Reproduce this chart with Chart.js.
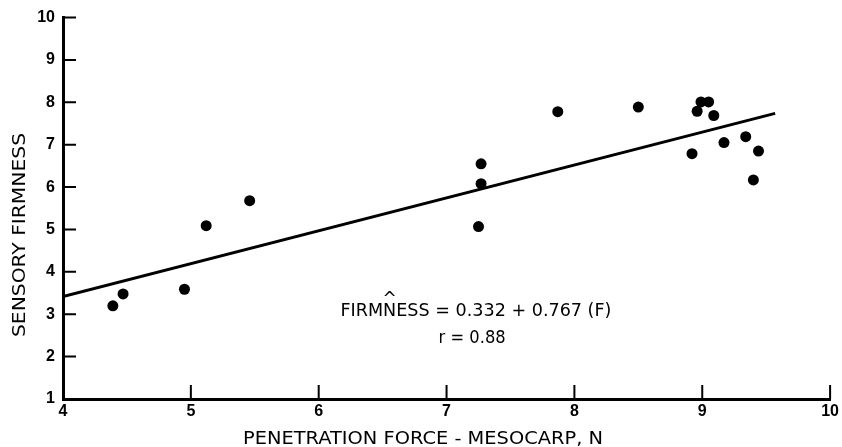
<!DOCTYPE html>
<html>
<head>
<meta charset="utf-8">
<script src="https://cdn.jsdelivr.net/npm/chart.js@4.4.1/dist/chart.umd.min.js"></script>
<style>
  html, body { margin: 0; padding: 0; background: #fff; }
  #wrap { width: 842px; height: 447px; position: relative; }
</style>
</head>
<body>
<div id="wrap"><canvas id="firmChart"></canvas></div>
<script>
// Data
const forceN = [4.39, 4.47, 4.95, 5.12, 5.46, 7.25, 7.27, 7.27, 7.87, 8.50,
                8.96, 8.99, 9.05, 9.09, 8.92, 9.17, 9.34, 9.44, 9.40];
const firmness = [3.20, 3.48, 3.59, 5.09, 5.68, 5.07, 6.08, 6.55, 7.78, 7.89,
                  7.79, 8.01, 8.01, 7.69, 6.79, 7.05, 7.19, 6.85, 6.17];
// regression line end points
const fitX = [4.0, 9.57];
const fitY = [3.42, 7.74];

const xTicks = [4, 5, 6, 7, 8, 9, 10];
const yTicks = [1, 2, 3, 4, 5, 6, 7, 8, 9, 10];

const xTitle = 'PENETRATION FORCE - MESOCARP, N';
const yTitle = 'SENSORY FIRMNESS';
const eqText = 'FIRMNESS = 0.332 + 0.767 (F)';
const rText = 'r = 0.88';

const points = forceN.map((x, i) => ({ x: x, y: firmness[i] }));
const fitLine = fitX.map((x, i) => ({ x: x, y: fitY[i] }));

// stretch text horizontally so it spans a given width, centred on cx
function stretchText(ctx, text, cx, cy, width) {
    const w = ctx.measureText(text).width;
    const sx = width / w;
    ctx.save();
    ctx.translate(cx, cy);
    ctx.scale(sx, 1);
    ctx.textAlign = 'center';
    ctx.fillText(text, 0, 0);
    ctx.restore();
    return sx;
}

// inward ticks, axis titles and the equation
const extras = {
    id: 'extras',
    beforeDatasetsDraw(chart) {
        const ctx = chart.ctx;
        const xs = chart.scales.x, ys = chart.scales.y;
        const area = chart.chartArea;
        ctx.save();
        ctx.strokeStyle = '#000';
        ctx.lineWidth = 2;
        ctx.beginPath();
        yTicks.forEach(v => {
            if (v === 1) return;
            const py = ys.getPixelForValue(v);
            ctx.moveTo(area.left, py);
            ctx.lineTo(area.left + 13, py);
        });
        xTicks.forEach(v => {
            if (v === 4) return;
            const px = xs.getPixelForValue(v);
            ctx.moveTo(px, area.bottom);
            ctx.lineTo(px, area.bottom - 14);
        });
        ctx.stroke();
        ctx.restore();
    },
    afterDraw(chart) {
        const ctx = chart.ctx;
        const xs = chart.scales.x, ys = chart.scales.y;
        ctx.save();
        ctx.fillStyle = '#000';
        ctx.textBaseline = 'alphabetic';

        // axis titles
        ctx.font = '17px "DejaVu Sans", sans-serif';
        stretchText(ctx, xTitle, 423, 444, 360);

        ctx.save();
        ctx.translate(25, 235);
        ctx.rotate(-Math.PI / 2);
        ctx.font = '18px "DejaVu Sans", sans-serif';
        stretchText(ctx, yTitle, 0, 0, 204);
        ctx.restore();

        // regression equation
        ctx.font = '17px "DejaVu Sans", sans-serif';
        const ex = xs.getPixelForValue(6.17);
        const ey = ys.getPixelForValue(2.97);
        const sx = stretchText(ctx, eqText, ex + 135.5, ey, 271);
        // circumflex over the N
        const before = ctx.measureText('FIRM').width * sx;
        const nW = ctx.measureText('N').width * sx;
        ctx.textAlign = 'center';
        ctx.fillText('^', ex + before + nW / 2, ey - 12);

        stretchText(ctx, rText, xs.getPixelForValue(7.2), ys.getPixelForValue(2.32), 67);
        ctx.restore();
    }
};

const tickFont = { family: '"Liberation Sans", Arial, sans-serif', size: 16, weight: 'bold' };

new Chart(document.getElementById('firmChart'), {
    type: 'scatter',
    data: {
        datasets: [
            {
                label: 'observed',
                data: points,
                backgroundColor: '#000',
                borderColor: '#000',
                pointRadius: 5.5,
                pointHoverRadius: 5.5,
                borderWidth: 0
            },
            {
                type: 'line',
                label: 'fit',
                data: fitLine,
                borderColor: '#000',
                borderWidth: 3,
                pointRadius: 0,
                fill: false,
                tension: 0
            }
        ]
    },
    options: {
        responsive: true,
        maintainAspectRatio: false,
        animation: false,
        events: [],
        layout: { padding: { left: 0, top: 16, right: 9, bottom: 0 } },
        plugins: {
            legend: { display: false },
            tooltip: { enabled: false }
        },
        scales: {
            x: {
                type: 'linear',
                min: 4,
                max: 10,
                afterBuildTicks: s => { s.ticks = xTicks.map(v => ({ value: v })); },
                afterFit: s => { s.height = 48; },
                grid: { display: false, drawTicks: false, tickLength: 0 },
                border: { display: true, color: '#000', width: 3 },
                ticks: { color: '#000', font: tickFont, padding: 3, maxRotation: 0 }
            },
            y: {
                type: 'linear',
                min: 1,
                max: 10,
                afterBuildTicks: s => { s.ticks = yTicks.map(v => ({ value: v })); },
                afterFit: s => { s.width = 63; },
                grid: { display: false, drawTicks: false, tickLength: 0 },
                border: { display: true, color: '#000', width: 3 },
                ticks: { color: '#000', font: tickFont, padding: 8 }
            }
        }
    },
    plugins: [extras]
});
</script>
</body>
</html>
